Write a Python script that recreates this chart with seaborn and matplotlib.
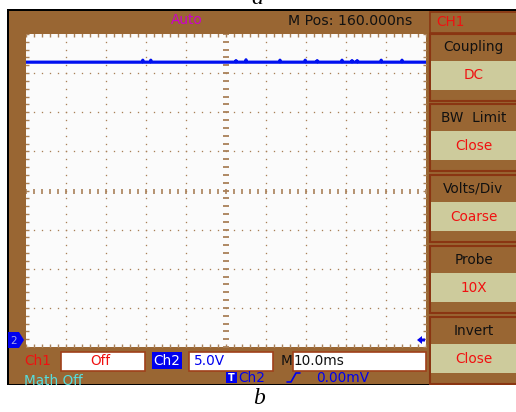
import matplotlib
matplotlib.use("Agg")
import numpy as np
import matplotlib.pyplot as plt
from matplotlib.patches import Rectangle, Polygon
import seaborn as sns

# Channel 2 trace: time (ms) and voltage (V), flat level with short glitches
time_ms = [0.0, 29.0, 29.2, 29.4, 31.0, 31.2, 31.4, 52.3, 52.5, 52.7,
           54.8, 55.0, 55.2, 63.3, 63.5, 63.7, 69.6, 69.8, 70.0, 72.6,
           72.8, 73.0, 78.8, 79.0, 79.2, 81.3, 81.5, 81.7, 82.6, 82.8,
           83.0, 88.6, 88.8, 89.0, 93.8, 94.0, 94.2, 100.0]
volts = [16.4, 16.4, 16.65, 16.4, 16.4, 16.65, 16.4, 16.4, 16.6, 16.4,
         16.4, 16.7, 16.4, 16.4, 16.65, 16.4, 16.4, 16.65, 16.4, 16.4,
         16.6, 16.4, 16.4, 16.65, 16.4, 16.4, 16.6, 16.4, 16.4, 16.6,
         16.4, 16.4, 16.65, 16.4, 16.4, 16.65, 16.4, 16.4]

# Scope settings
ms_per_div = 10.0
volts_per_div = 5.0
n_div_x, n_div_y = 10, 8

# Side menu
menu_titles = ["Coupling", "BW  Limit", "Volts/Div", "Probe", "Invert"]
menu_values = ["DC", "Close", "Coarse", "10X", "Close"]

# Status line texts
top_mode = "Auto"
top_mpos = "M Pos: 160.000ns"
ch1_state = "Off"
ch2_scale = "5.0V"
time_base = "10.0ms"
trig_level = "0.00mV"

sns.set_theme(style="white")
plt.rcParams["font.family"] = ["DejaVu Sans"]

W, H = 516, 412
BROWN = "#996633"
KHAKI = "#cdcb9c"
RUST = "#8a3512"
RED = "#f01010"
BLUE = "#0000ee"
DOT = "#a98058"
FS = 9.8

fig = plt.figure(figsize=(W / 100, H / 100), dpi=100)

# background layer in pixel coordinates
bg = fig.add_axes([0, 0, 1, 1], zorder=0)
bg.set_xlim(0, W)
bg.set_ylim(H, 0)
bg.axis("off")

bg.add_patch(Rectangle((7, 9), W - 7, 376, facecolor="black", lw=0))
bg.add_patch(Rectangle((9, 11), W - 9, 373, facecolor=BROWN, lw=0))

# CH1 header box
bg.add_patch(Rectangle((429.5, 11.5), 90, 21, facecolor=BROWN, edgecolor=RUST, lw=1.2))

# menu boxes
for i in range(len(menu_titles)):
    top = 33 + 70.9 * i
    bg.add_patch(Rectangle((429.5, top + 0.5), 90, 67, facecolor=BROWN,
                           edgecolor=RUST, lw=1.5))
    bg.add_patch(Rectangle((431, top + 27.5), 88, 29, facecolor=KHAKI, lw=0))

# bottom status boxes
for (x0, w) in [(60, 84), (188, 84), (292, 133)]:
    bg.add_patch(Rectangle((x0 + 0.5, 351.5), w, 19, facecolor="white",
                           edgecolor="#a0401a", lw=1.2))
bg.add_patch(Rectangle((152, 352), 30, 17, facecolor=BLUE, lw=0))
bg.add_patch(Rectangle((226, 372), 11, 11, facecolor=BLUE, lw=0))

# graticule and trace
ax = fig.add_axes([26 / W, 1 - 347 / H, 400 / W, 313 / H], zorder=1)
ax.set_facecolor("#fbfbfb")
xmax = ms_per_div * n_div_x
ymax = volts_per_div * n_div_y / 2
ax.set_xlim(0, xmax)
ax.set_ylim(-ymax, ymax)
for s in ax.spines.values():
    s.set_visible(False)
ax.set_xticks([])
ax.set_yticks([])

sns.lineplot(x=time_ms, y=volts, ax=ax, color="#0010f0", linewidth=2.3,
             estimator=None, zorder=2)

xs = np.arange(0, xmax + 0.01, ms_per_div / 5)
ys = np.arange(-ymax, ymax + 0.01, volts_per_div / 5)
x_div = np.arange(ms_per_div, xmax, ms_per_div)
y_div = np.arange(-ymax + volts_per_div, ymax, volts_per_div)
for yy in y_div:
    if abs(yy) > 1e-9:
        ax.plot(xs[1:-1], np.full(len(xs) - 2, yy), "s", ms=0.95, mew=0,
                color=DOT, zorder=3)
for xx in x_div:
    if abs(xx - xmax / 2) > 1e-9:
        ax.plot(np.full(len(ys) - 2, xx), ys[1:-1], "s", ms=0.95, mew=0,
                color=DOT, zorder=3)
# centre lines
ax.plot(np.full(len(ys), xmax / 2), ys, ls="none", marker="_", ms=4.0,
        mew=1.3, color=DOT, zorder=3)
ax.plot(xs, np.zeros(len(xs)), ls="none", marker="|", ms=3.6,
        mew=1.2, color=DOT, zorder=3)
# edge ticks
ax.plot(np.zeros(len(ys)), ys, ls="none", marker="_", ms=4.6, mew=1.0, color=DOT, zorder=3)
ax.plot(np.full(len(ys), xmax), ys, ls="none", marker="_", ms=4.6, mew=1.0, color=DOT, zorder=3)
ax.plot(xs, np.full(len(xs), ymax), ls="none", marker="|", ms=4.6, mew=1.0, color=DOT, zorder=3)
ax.plot(xs, np.full(len(xs), -ymax), ls="none", marker="|", ms=4.6, mew=1.0, color=DOT, zorder=3)

# overlay layer for texts and markers
ov = fig.add_axes([0, 0, 1, 1], zorder=4)
ov.set_xlim(0, W)
ov.set_ylim(H, 0)
ov.axis("off")
ov.patch.set_alpha(0)

ov.text(187, 20, top_mode, color="#cc00cc", fontsize=FS, ha="center", va="center")
ov.text(288, 21, top_mpos, color="#111111", fontsize=10.2, ha="left", va="center")
ov.text(436, 22, "CH1", color=RED, fontsize=FS, ha="left", va="center")

for i, (t, v) in enumerate(zip(menu_titles, menu_values)):
    top = 33 + 70.9 * i
    ov.text(473.5, top + 14, t, color="#111111", fontsize=FS, ha="center", va="center")
    ov.text(473.5, top + 42, v, color=RED, fontsize=FS, ha="center", va="center")

ov.text(24, 361, "Ch1", color=RED, fontsize=FS, ha="left", va="center")
ov.text(100, 361, ch1_state, color=RED, fontsize=FS, ha="center", va="center")
ov.text(167, 361, "Ch2", color="white", fontsize=FS, ha="center", va="center")
ov.text(194, 361, ch2_scale, color=BLUE, fontsize=FS, ha="left", va="center")
ov.text(281, 361, "M", color="#111111", fontsize=FS, ha="left", va="center")
ov.text(294, 361, time_base, color="#111111", fontsize=FS, ha="left", va="center")

ov.text(24, 381, "Math Off", color="#55dede", fontsize=FS, ha="left", va="center")
ov.text(231.5, 378, "T", color="white", fontsize=7, ha="center", va="center",
        fontweight="bold")
ov.text(238, 378, "Ch2", color=BLUE, fontsize=FS, ha="left", va="center")
ov.plot([287, 291, 296, 300], [382, 382, 373, 373], color=BLUE, lw=1.2)
ov.text(316, 378, trig_level, color=BLUE, fontsize=FS, ha="left", va="center")

# channel 2 ground marker and trigger position arrow
ov.add_patch(Polygon([(8, 332), (19, 332), (24, 340), (19, 348), (8, 348)],
                     closed=True, facecolor=BLUE, lw=0))
ov.text(14, 340.5, "2", color="#a8a8e8", fontsize=7.5, ha="center", va="center")
ov.add_patch(Polygon([(417, 340), (422, 336), (422, 338.5), (425, 338.5),
                      (425, 341.5), (422, 341.5), (422, 344)],
                     closed=True, facecolor=BLUE, lw=0))

# page below the screen and captions
ov.add_patch(Rectangle((0, 384.5), W, 30, facecolor="white", lw=0, zorder=5))
ov.text(259, 398, "b", fontsize=17, family="Liberation Serif", style="italic",
        ha="center", va="center", color="black", zorder=6)
ov.text(257, 4, "a", fontsize=17, family="Liberation Serif", style="italic",
        ha="center", va="baseline", color="black", zorder=6)

fig.savefig("out.png", dpi=100)
